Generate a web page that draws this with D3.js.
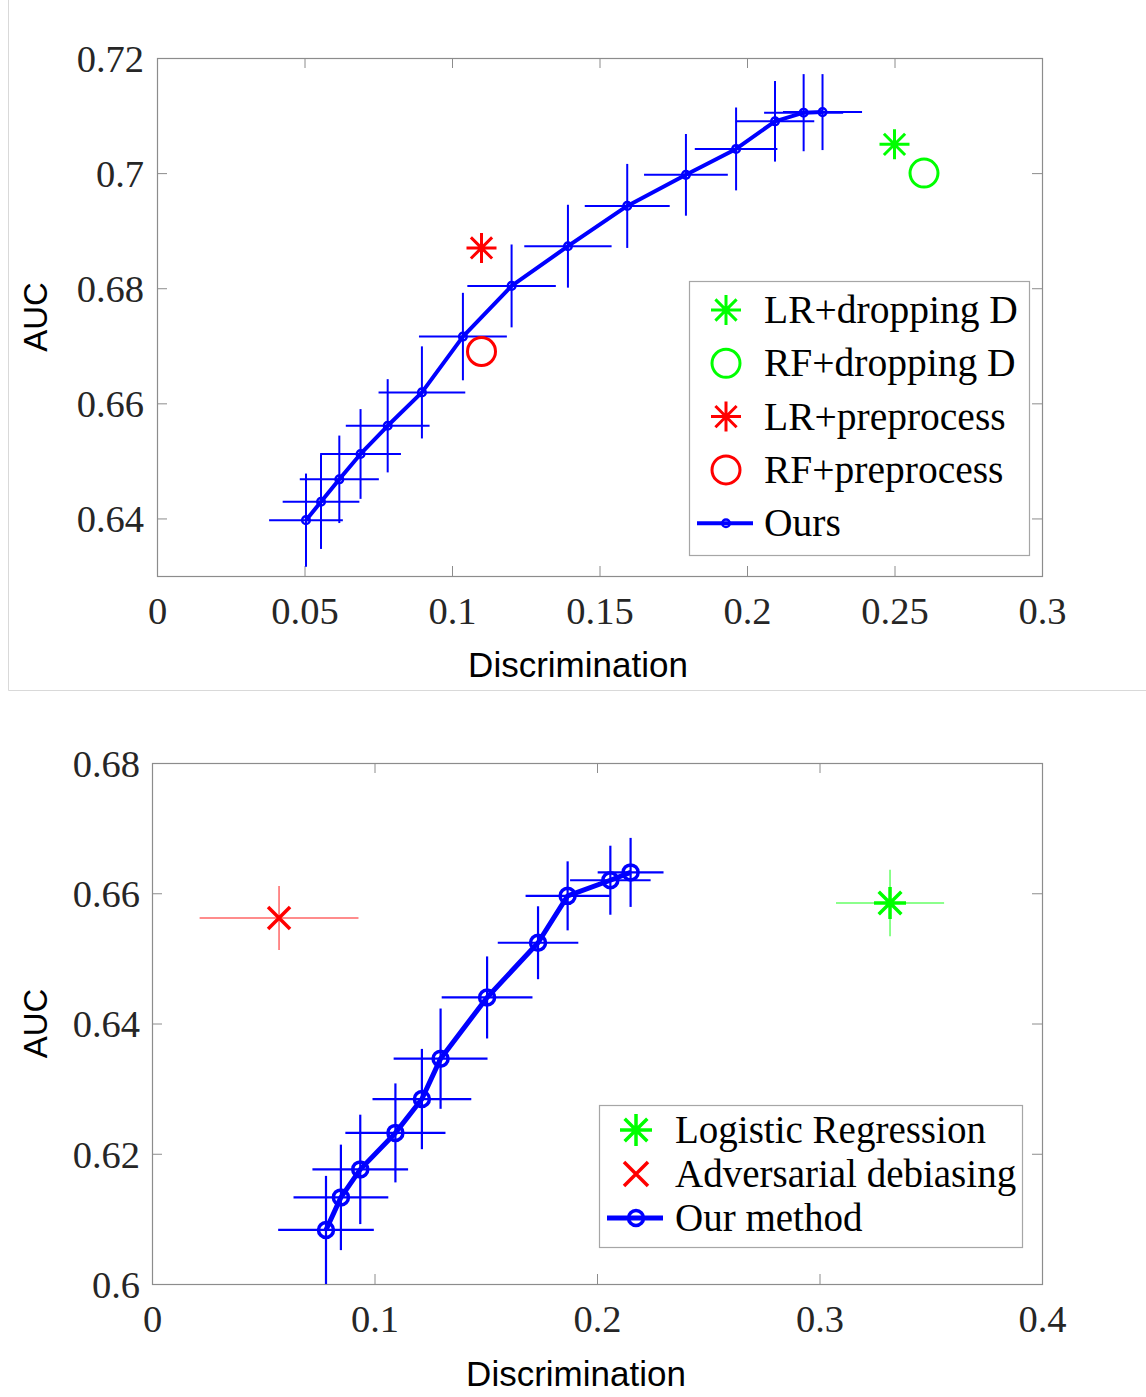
<!DOCTYPE html>
<html><head><meta charset="utf-8">
<script src="https://cdn.jsdelivr.net/npm/d3@7"></script>
<style>body{margin:0;background:#fff}</style>
</head><body><svg id="c" width="1146" height="1397"></svg>
<script>
// ---------- Top panel data ----------
const topOursX    = [0.0505,0.0556,0.0618,0.0690,0.0782,0.0898,0.1037,0.1202,0.1393,0.1594,0.1793,0.1963,0.2095,0.2192,0.2256];
const topOursY    = [0.6397,0.6429,0.6468,0.6512,0.6561,0.6619,0.6716,0.6804,0.6873,0.6943,0.6997,0.7042,0.7090,0.7105,0.7106];
const topOursXErr = [0.0125,0.0130,0.0134,0.0137,0.0142,0.0147,0.0149,0.0150,0.0148,0.0144,0.0142,0.0140,0.0133,0.0134,0.0134];
const topOursYErr = [0.0081,0.0082,0.0076,0.0078,0.0081,0.0080,0.0076,0.0072,0.0072,0.0073,0.0071,0.0072,0.0070,0.0067,0.0066];
const topBaselineNames = ["LR+dropping D","RF+dropping D","LR+preprocess","RF+preprocess"];
const topBaselineX = [0.250,0.260,0.110,0.110];
const topBaselineY = [0.705,0.700,0.687,0.669];
const topOursName = "Ours";
const topXTicks = [0,0.05,0.1,0.15,0.2,0.25,0.3];
const topXTickLabels = ["0","0.05","0.1","0.15","0.2","0.25","0.3"];
const topYTicks = [0.64,0.66,0.68,0.7,0.72];
const topYTickLabels = ["0.64","0.66","0.68","0.7","0.72"];

// ---------- Bottom panel data ----------
const botOursX    = [0.0782,0.0849,0.0936,0.1094,0.1213,0.1297,0.1506,0.1735,0.1868,0.2060,0.2151];
const botOursY    = [0.6083,0.6133,0.6176,0.6232,0.6284,0.6346,0.6440,0.6524,0.6596,0.6620,0.6632];
const botOursXErr = [0.0215,0.0213,0.0215,0.0225,0.0222,0.0211,0.0204,0.0181,0.0189,0.0181,0.0148];
const botOursYErr = [0.0083,0.0081,0.0084,0.0076,0.0077,0.0077,0.0063,0.0056,0.0053,0.0053,0.0053];
const botBaselineNames = ["Logistic Regression","Adversarial debiasing"];
const botBaselineX    = [0.3317,0.0571];
const botBaselineY    = [0.6585,0.6562];
const botBaselineXErr = [0.0243,0.0357];
const botBaselineYErr = [0.0051,0.0049];
const botOursName = "Our method";
const botXTicks = [0,0.1,0.2,0.3,0.4];
const botXTickLabels = ["0","0.1","0.2","0.3","0.4"];
const botYTicks = [0.6,0.62,0.64,0.66,0.68];
const botYTickLabels = ["0.6","0.62","0.64","0.66","0.68"];

const xLabel = "Discrimination", yLabel = "AUC";

// ---------- styles ----------
const BLUE="#0000ff", GREEN="#00ff00", RED="#ff0000";
const SERIF="'Liberation Serif','Times New Roman',serif";
const SANS="'Liberation Sans',Arial,sans-serif";
const TXT="#262626", AX="#8c8c8c";

const svg = d3.select("#c");
svg.append("rect").attr("width",1146).attr("height",1397).attr("fill","#fff");
// faint border of the composed figure
svg.append("path").attr("d","M8.5,0V690.5H1146").attr("fill","none").attr("stroke","#d9d9d9").attr("stroke-width",1);

function marker(g, shape, cx, cy, color, r, sw){
  if(shape==="asterisk"){
    const d = [0,45,90,135].map(a=>{const t=a*Math.PI/180;const dx=r*Math.cos(t),dy=r*Math.sin(t);
      return `M${cx-dx},${cy-dy}L${cx+dx},${cy+dy}`;}).join("");
    g.append("path").attr("d",d).attr("stroke",color).attr("stroke-width",sw).attr("fill","none");
  } else if(shape==="circle"){
    g.append("circle").attr("cx",cx).attr("cy",cy).attr("r",r).attr("stroke",color).attr("stroke-width",sw).attr("fill","none");
  } else if(shape==="x"){
    g.append("path").attr("d",`M${cx-r},${cy-r}L${cx+r},${cy+r}M${cx-r},${cy+r}L${cx+r},${cy-r}`)
      .attr("stroke",color).attr("stroke-width",sw).attr("fill","none");
  }
}

function panel(o){
  const x = d3.scaleLinear().domain(o.xDom).range([o.left,o.right]);
  const y = d3.scaleLinear().domain(o.yDom).range([o.bottom,o.top]);
  const g = svg.append("g");
  const clipId = "clip"+o.id;
  svg.append("clipPath").attr("id",clipId).append("rect")
    .attr("x",o.left).attr("y",o.top).attr("width",o.right-o.left).attr("height",o.bottom-o.top);

  // axes
  const ax = g.append("g").attr("transform",`translate(0,${o.bottom})`)
    .call(d3.axisBottom(x).tickValues(o.xTicks).tickFormat((d,i)=>o.xTickLabels[i]).tickSizeInner(-10).tickSizeOuter(0));
  ax.selectAll("text").attr("y",o.xLabPad).attr("dy",0).attr("font-family",SERIF).attr("font-size",o.fs).attr("fill",TXT);
  const ay = g.append("g").attr("transform",`translate(${o.left},0)`)
    .call(d3.axisLeft(y).tickValues(o.yTicks).tickFormat((d,i)=>o.yTickLabels[i]).tickSizeInner(-10).tickSizeOuter(0));
  ay.selectAll("text").attr("x",-o.yLabPad).attr("dy","0.35em").attr("font-family",SERIF).attr("font-size",o.fs).attr("fill",TXT);
  const at = g.append("g").attr("transform",`translate(0,${o.top})`)
    .call(d3.axisTop(x).tickValues(o.xTicks).tickFormat("").tickSizeInner(-10).tickSizeOuter(0));
  const ar = g.append("g").attr("transform",`translate(${o.right},0)`)
    .call(d3.axisRight(y).tickValues(o.yTicks).tickFormat("").tickSizeInner(-10).tickSizeOuter(0));
  [ax,ay,at,ar].forEach(a=>{a.select(".domain").remove();a.selectAll("line").attr("stroke",AX);});
  g.append("rect").attr("x",o.left+0.5).attr("y",o.top+0.5).attr("width",o.right-o.left).attr("height",o.bottom-o.top)
    .attr("fill","none").attr("stroke",AX).attr("stroke-width",1.2);

  // axis titles
  g.append("text").attr("x",o.xTitleX).attr("y",o.bottom+o.xTitleOff).attr("text-anchor","middle")
    .attr("font-family",SANS).attr("font-size",35).attr("fill","#000").text(xLabel);
  g.append("text").attr("transform",`translate(47,${(o.top+o.bottom)/2})rotate(-90)`).attr("text-anchor","middle")
    .attr("font-family",SANS).attr("font-size",33).attr("fill","#000").text(yLabel);

  const pg = g.append("g").attr("clip-path",`url(#${clipId})`);
  // baseline error bars
  if(o.bXErr){
    o.bX.forEach((v,i)=>{
      const c=o.bStyles[i].color;
      pg.append("line").attr("x1",x(v-o.bXErr[i])).attr("x2",x(v+o.bXErr[i])).attr("y1",y(o.bY[i])).attr("y2",y(o.bY[i]))
        .attr("stroke",c).attr("stroke-width",1.5).attr("opacity",0.6);
      pg.append("line").attr("x1",x(v)).attr("x2",x(v)).attr("y1",y(o.bY[i]-o.bYErr[i])).attr("y2",y(o.bY[i]+o.bYErr[i]))
        .attr("stroke",c).attr("stroke-width",1.5).attr("opacity",0.6);
    });
  }
  // ours error bars
  o.oX.forEach((v,i)=>{
    pg.append("line").attr("x1",x(v-o.oXErr[i])).attr("x2",x(v+o.oXErr[i])).attr("y1",y(o.oY[i])).attr("y2",y(o.oY[i]))
      .attr("stroke",BLUE).attr("stroke-width",o.ebW);
    pg.append("line").attr("x1",x(v)).attr("x2",x(v)).attr("y1",y(o.oY[i]-o.oYErr[i])).attr("y2",y(o.oY[i]+o.oYErr[i]))
      .attr("stroke",BLUE).attr("stroke-width",o.ebW);
  });
  // ours line
  const line = d3.line().x((d,i)=>x(o.oX[i])).y((d,i)=>y(o.oY[i]));
  pg.append("path").datum(o.oX).attr("d",line).attr("fill","none").attr("stroke",BLUE).attr("stroke-width",o.lineW).attr("stroke-linejoin","round");
  o.oX.forEach((v,i)=>marker(pg,"circle",x(v),y(o.oY[i]),BLUE,o.oR,o.oSW));
  // baselines markers
  o.bX.forEach((v,i)=>marker(pg,o.bStyles[i].shape,x(v),y(o.bY[i]),o.bStyles[i].color,o.bStyles[i].r,o.bStyles[i].sw));

  // legend
  const L=o.legend;
  g.append("rect").attr("x",L.x+0.5).attr("y",L.y+0.5).attr("width",L.w).attr("height",L.h).attr("fill","#fff").attr("stroke","#a6a6a6").attr("stroke-width",1.2);
  o.bNames.forEach((n,i)=>{
    const cy=L.y+L.first+i*L.step;
    const s=o.bStyles[i];
    marker(g,s.shape,L.x+L.mx,cy,s.color,s.lr,s.sw);
    g.append("text").attr("x",L.x+L.tx).attr("y",cy).attr("dy","0.33em").attr("font-family",SERIF).attr("font-size",L.fs).attr("fill","#000").text(n);
  });
  const cy=L.y+L.first+o.bNames.length*L.step;
  g.append("line").attr("x1",L.x+8).attr("x2",L.x+L.mx*2-10).attr("y1",cy).attr("y2",cy).attr("stroke",BLUE).attr("stroke-width",o.lineW);
  marker(g,"circle",L.x+L.mx,cy,BLUE,o.oR,o.oSW);
  g.append("text").attr("x",L.x+L.tx).attr("y",cy).attr("dy","0.33em").attr("font-family",SERIF).attr("font-size",L.fs).attr("fill","#000").text(o.oName);
}

panel({id:"t",left:157,right:1042,top:58,bottom:576,xDom:[0,0.3],yDom:[0.63,0.72],
  xTicks:topXTicks,xTickLabels:topXTickLabels,yTicks:topYTicks,yTickLabels:topYTickLabels,
  xLabPad:48,yLabPad:13,xTitleX:578,xTitleOff:101,fs:38.5,
  oX:topOursX,oY:topOursY,oXErr:topOursXErr,oYErr:topOursYErr,oName:topOursName,
  lineW:4,ebW:2,oR:3.8,oSW:2.5,
  bX:topBaselineX,bY:topBaselineY,bNames:topBaselineNames,
  bStyles:[{shape:"asterisk",color:GREEN,r:15,lr:15,sw:3},{shape:"circle",color:GREEN,r:14,lr:14,sw:3},
           {shape:"asterisk",color:RED,r:15,lr:15,sw:3},{shape:"circle",color:RED,r:14,lr:14,sw:3}],
  legend:{x:689,y:281,w:340,h:274,first:29,step:53.3,mx:37,tx:75,fs:39.5}
});

panel({id:"b",left:152,right:1042,top:763,bottom:1284,xDom:[0,0.4],yDom:[0.6,0.68],
  xTicks:botXTicks,xTickLabels:botXTickLabels,yTicks:botYTicks,yTickLabels:botYTickLabels,
  xLabPad:48,yLabPad:12,xTitleX:576,xTitleOff:102,fs:38.5,
  oX:botOursX,oY:botOursY,oXErr:botOursXErr,oYErr:botOursYErr,oName:botOursName,
  lineW:5,ebW:2.2,oR:7.5,oSW:3.5,
  bX:botBaselineX,bY:botBaselineY,bXErr:botBaselineXErr,bYErr:botBaselineYErr,bNames:botBaselineNames,
  bStyles:[{shape:"asterisk",color:GREEN,r:16,lr:16,sw:3.5},{shape:"x",color:RED,r:11,lr:12,sw:3.5}],
  legend:{x:599,y:1105,w:423,h:142,first:25,step:44,mx:37,tx:76,fs:39}
});
</script></body></html>
